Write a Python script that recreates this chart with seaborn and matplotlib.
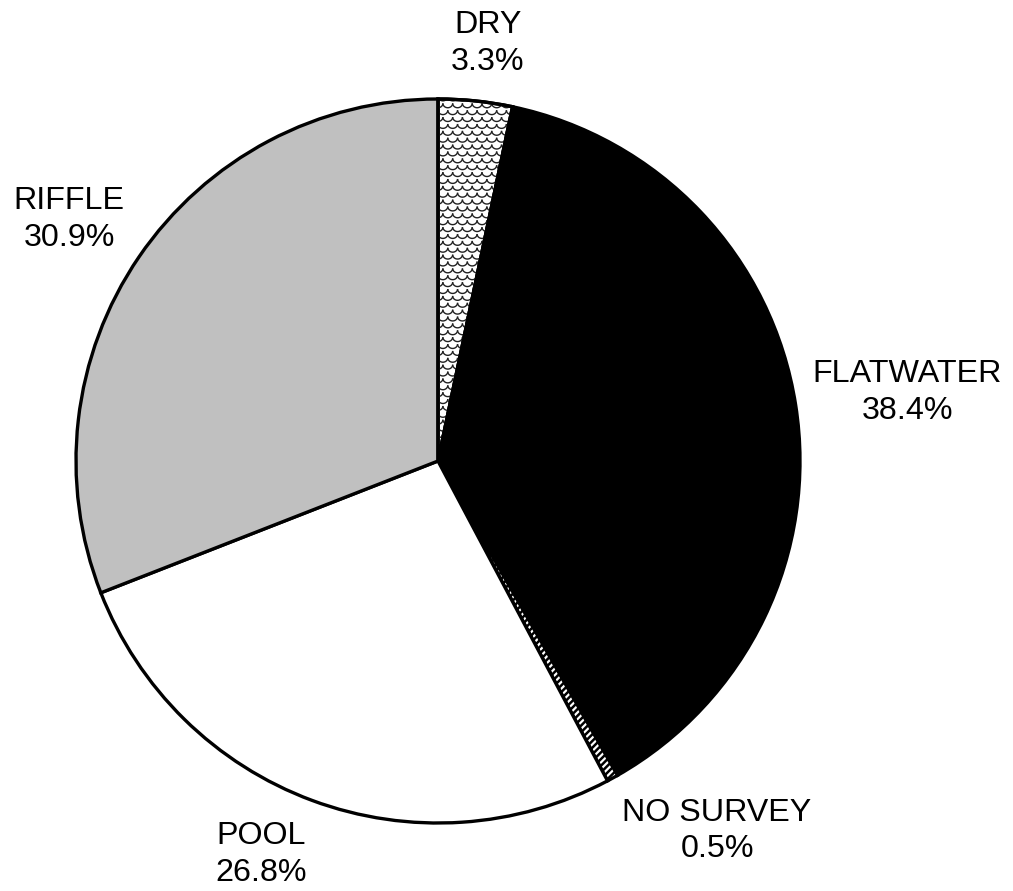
import numpy as np
import matplotlib
matplotlib.use("Agg")
import matplotlib.pyplot as plt
from matplotlib.collections import LineCollection
from matplotlib.patches import Wedge
import seaborn as sns

# Share of stream length by habitat type (percent)
categories = ["DRY", "FLATWATER", "NO SURVEY", "POOL", "RIFFLE"]
percents = [3.3, 38.4, 0.5, 26.8, 30.9]

# Styling for each habitat slice
face_colors = ["white", "black", "white", "white", "#C0C0C0"]
hatches = [None, None, "/////", None, None]

# Label anchor points, in units of the pie radius
label_xy = [(0.138, 1.153), (1.296, 0.188), (0.771, -1.022),
            (-0.489, -1.088), (-1.019, 0.666)]

sns.set_theme(style="white")
plt.rcParams["font.family"] = ["Liberation Sans", "DejaVu Sans"]
plt.rcParams["hatch.linewidth"] = 1.8

W, H = 1013, 891
cx, cy, R = 438.0, 461.0, 362.0

fig = plt.figure(figsize=(W / 100, H / 100), dpi=100)
ax = fig.add_axes([0, 0, 1, 1])

wedges, _ = ax.pie(
    percents,
    startangle=90,
    counterclock=False,
    colors=face_colors,
    radius=1.0,
    wedgeprops=dict(edgecolor="black", linewidth=2.4),
)
for w, h in zip(wedges, hatches):
    if h:
        w.set_hatch(h)

# Scale-like texture on the DRY slice
dx, dy = 0.027, 0.019
r = dx / 2
t = np.linspace(np.pi, 2 * np.pi, 14)
segs = []
for j, y0 in enumerate(np.arange(0.0, 1.05, dy)):
    shift = (j % 2) * dx / 2
    for x0 in np.arange(-dx, 0.3, dx):
        xs = x0 + shift + r * np.cos(t)
        ys = y0 + 0.9 * r * np.sin(t)
        segs.append(np.column_stack([xs, ys]))
w0 = wedges[0]
lc = LineCollection(segs, colors="#222222", linewidths=1.0, zorder=w0.get_zorder() + 0.1)
ax.add_collection(lc)
lc.set_clip_path(w0)

# Re-stroke the DRY outline above the texture
ax.add_patch(Wedge(w0.center, w0.r, w0.theta1, w0.theta2, facecolor="none",
                   edgecolor="black", linewidth=2.4, zorder=w0.get_zorder() + 0.2))

for (lx, ly), cat, p in zip(label_xy, categories, percents):
    ax.text(lx, ly, f"{cat}\n{p:.1f}%", ha="center", va="center",
            fontsize=23.2, color="black", linespacing=1.3)

ax.set_aspect("auto")
ax.set_xlim(-cx / R, (W - cx) / R)
ax.set_ylim(-(H - cy) / R, cy / R)
ax.axis("off")

fig.savefig("out.png", dpi=100, facecolor="white")
